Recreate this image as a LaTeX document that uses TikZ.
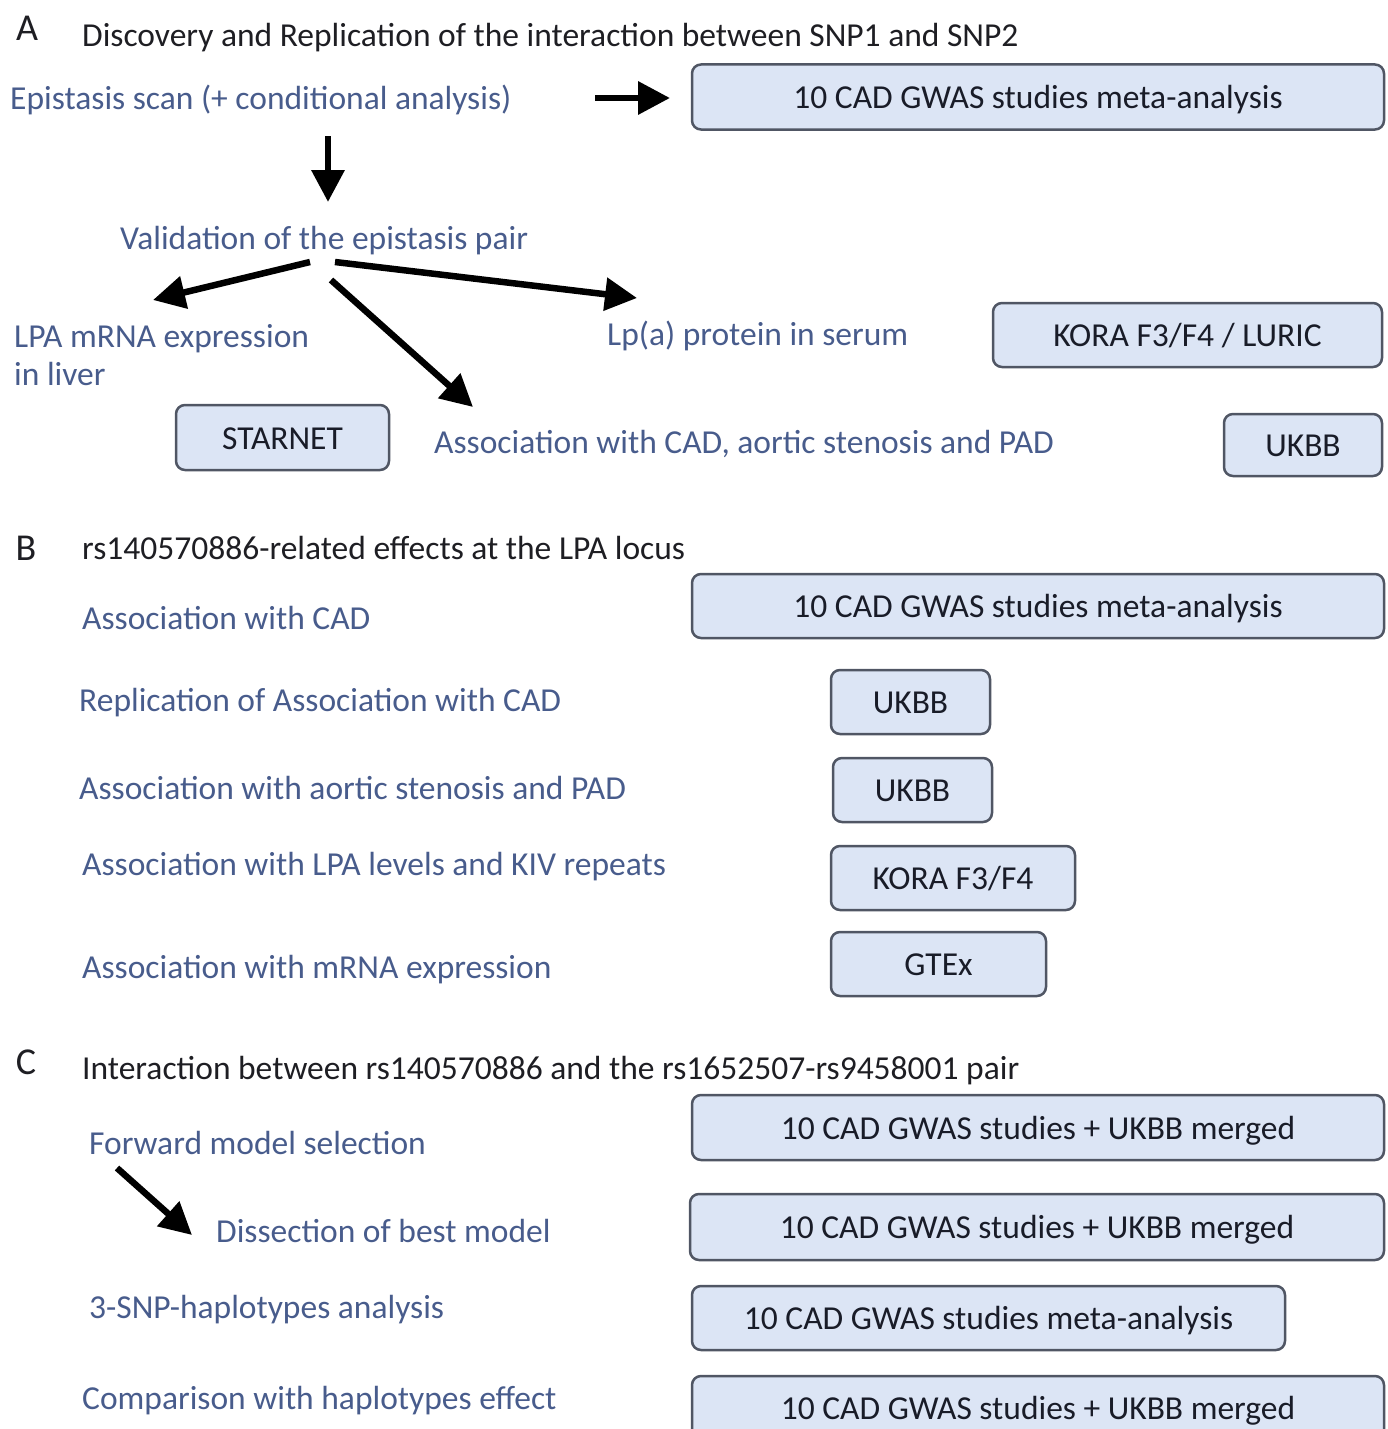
\documentclass[tikz,border=0pt]{standalone}
\usepackage{fontspec}
\setmainfont{Carlito}
\usetikzlibrary{arrows.meta}
\definecolor{txtblue}{RGB}{72,92,140}
\definecolor{headtxt}{RGB}{30,30,35}
\definecolor{boxfill}{RGB}{220,229,245}
\definecolor{boxdraw}{RGB}{80,86,100}
\definecolor{boxtxt}{RGB}{25,28,40}
\begin{document}
\begin{tikzpicture}[x=1pt,y=-1pt,
  lbl/.style={anchor=west,inner sep=0pt,yshift=-3pt,text=txtblue,font=\fontsize{33.5}{38}\selectfont},
  head/.style={anchor=west,inner sep=0pt,yshift=-3pt,text=headtxt,font=\fontsize{33.5}{38}\selectfont},
  letter/.style={anchor=center,inner sep=0pt,text=headtxt,font=\fontsize{38}{42}\selectfont},
  box/.style={draw=boxdraw,line width=2.5pt,fill=boxfill,rounded corners=9pt,text=boxtxt,
    font=\fontsize{33.5}{38}\selectfont,inner sep=0pt,text height=30pt,text depth=7pt},
  arr/.style={line width=6.5pt,-{Triangle[length=32pt,width=32pt]}}]
\useasboundingbox (0,0) rectangle (1388,1429);
% ---------- A ----------
\node[letter] (lA) at (27,28) {A};
\node[head] (hA) at (82,35) {Discovery and Replication of the interaction between SNP1 and SNP2};
\node[lbl] (epi) at (10,97) {Epistasis scan (+ conditional analysis)};
\node[box,minimum width=692,minimum height=65] (bA1) at (1038,97) {10 CAD GWAS studies meta-analysis};
\node[lbl] (val) at (120,238) {Validation of the epistasis pair};
\node[lbl,align=left] (lpa) at (14,352) {LPA mRNA expression\\in liver};
\node[lbl] (lpprot) at (607,333) {Lp(a) protein in serum};
\node[box,minimum width=389,minimum height=64] (bkora) at (1187.5,335) {KORA F3/F4 / LURIC};
\node[box,minimum width=213,minimum height=65] (bstar) at (282.5,437.5) {STARNET};
\node[lbl] (assocA) at (434,441) {Association with CAD, aortic stenosis and PAD};
\node[box,minimum width=158,minimum height=62] (bukA) at (1303,445) {UKBB};
\coordinate (e1s) at (595,98);
\coordinate (e1e) at (670,98);
\coordinate (d1s) at (328,136);
\coordinate (d1e) at (328,202);
\coordinate (v1s) at (310,262);
\coordinate (v1e) at (153,300);
\coordinate (v2s) at (335,262);
\coordinate (v2e) at (637,298);
\coordinate (v3s) at (331,280);
\coordinate (v3e) at (473,407);
\draw[arr] (e1s) -- (e1e);
\draw[arr] (d1s) -- (d1e);
\draw[arr] (v1s) -- (v1e);
\draw[arr] (v2s) -- (v2e);
\draw[arr] (v3s) -- (v3e);
% ---------- B ----------
\node[letter] (lB) at (26,548) {B};
\node[head] (hB) at (82,545) {rs140570886-related effects at the LPA locus};
\node[lbl] (b1) at (82,615) {Association with CAD};
\node[box,minimum width=692,minimum height=64] (bB1) at (1038,606) {10 CAD GWAS studies meta-analysis};
\node[lbl] (b2) at (79,700) {Replication of Association with CAD};
\node[box,minimum width=159,minimum height=64] (bB2) at (910.5,702) {UKBB};
\node[lbl] (b3) at (79,785) {Association with aortic stenosis and PAD};
\node[box,minimum width=159,minimum height=64] (bB3) at (912.5,790) {UKBB};
\node[lbl] (b4) at (82,864) {Association with LPA levels and KIV repeats};
\node[box,minimum width=244,minimum height=64] (bB4) at (953,878) {KORA F3/F4};
\node[lbl] (b5) at (82,967) {Association with mRNA expression};
\node[box,minimum width=215,minimum height=64] (bB5) at (938.5,964) {GTEx};
% ---------- C ----------
\node[letter] (lC) at (26,1062) {C};
\node[head] (hC) at (82,1068) {Interaction between rs140570886 and the rs1652507-rs9458001 pair};
\node[lbl] (c1) at (89,1140) {Forward model selection};
\node[box,minimum width=692,minimum height=65] (bC1) at (1038,1127.5) {10 CAD GWAS studies + UKBB merged};
\node[lbl] (c2) at (216,1228) {Dissection of best model};
\node[box,minimum width=694,minimum height=66] (bC2) at (1037,1227) {10 CAD GWAS studies + UKBB merged};
\node[lbl] (c3) at (89,1307) {3-SNP-haplotypes analysis};
\node[box,minimum width=593,minimum height=64] (bC3) at (988.5,1318) {10 CAD GWAS studies meta-analysis};
\node[lbl] (c4) at (82,1398) {Comparison with haplotypes effect};
\node[box,minimum width=692,minimum height=64] (bC4) at (1038,1408) {10 CAD GWAS studies + UKBB merged};
\coordinate (f1s) at (117,1168);
\coordinate (f1e) at (192,1235);
\draw[arr] (f1s) -- (f1e);
\end{tikzpicture}
\end{document}
